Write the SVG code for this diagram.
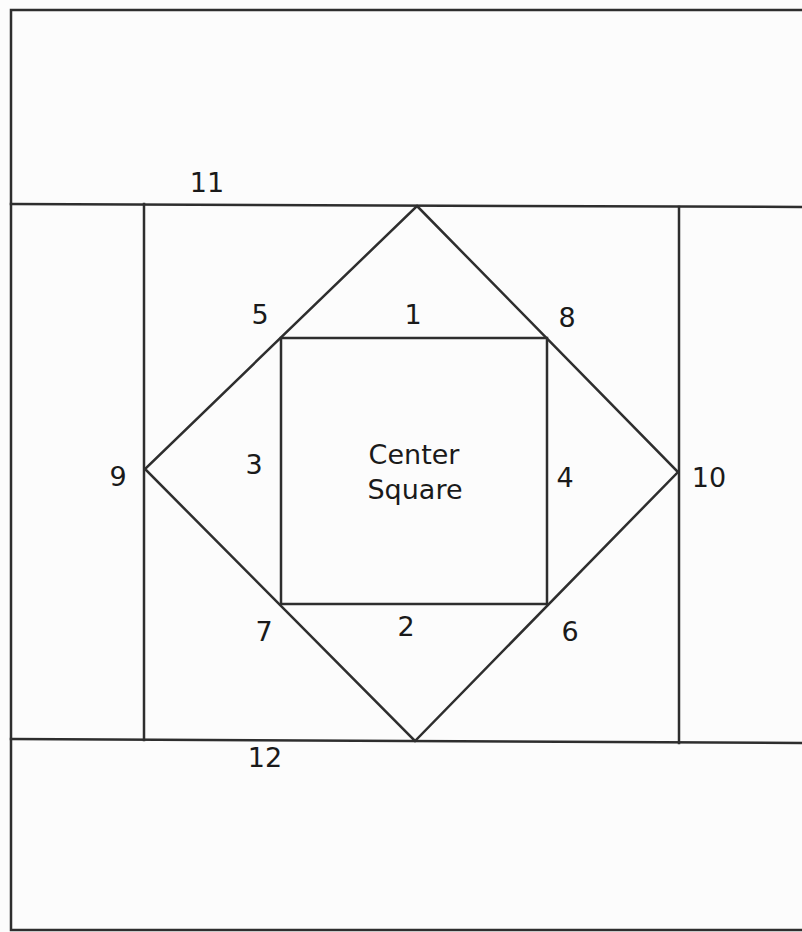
<svg xmlns="http://www.w3.org/2000/svg" width="802" height="932" viewBox="0 0 802 932">
  <style>
    .ln { fill: none; stroke: #2e2e2e; stroke-width: 2.5; stroke-linejoin: miter; stroke-linecap: square; }
    .lb { font-family: "Comic Sans MS", "DejaVu Sans", sans-serif; font-size: 27px; fill: #1a1a1a; text-anchor: middle; }
  </style>
  <rect x="0" y="0" width="802" height="932" fill="#fcfcfc"/>
  <g id="outer-border">
    <rect class="ln" x="11" y="10" width="800" height="920" fill="#fafafa"/>
  </g>
  <g id="piece-lines">
    <line class="ln" x1="11" y1="204" x2="802" y2="207"/>
    <line class="ln" x1="11" y1="739" x2="802" y2="743"/>
    <line class="ln" x1="144" y1="204" x2="144" y2="740"/>
    <line class="ln" x1="679" y1="207" x2="679" y2="743"/>
    <polygon class="ln" points="417,206 678,472 415,741 145,469"/>
    <rect class="ln" x="281" y="338" width="266" height="266"/>
  </g>
  <g id="labels">
    <text class="lb" x="207" y="192">11</text>
    <text class="lb" x="260" y="324">5</text>
    <text class="lb" x="413" y="324">1</text>
    <text class="lb" x="567" y="327">8</text>
    <text class="lb" x="118" y="486">9</text>
    <text class="lb" x="254" y="474">3</text>
    <text class="lb" x="565" y="487">4</text>
    <text class="lb" x="709" y="487">10</text>
    <text class="lb" x="264" y="641">7</text>
    <text class="lb" x="406" y="636">2</text>
    <text class="lb" x="570" y="641">6</text>
    <text class="lb" x="265" y="767">12</text>
  </g>
  <g id="center-square-label">
    <text class="lb" x="414" y="464">Center</text>
    <text class="lb" x="415" y="499">Square</text>
  </g>
</svg>
